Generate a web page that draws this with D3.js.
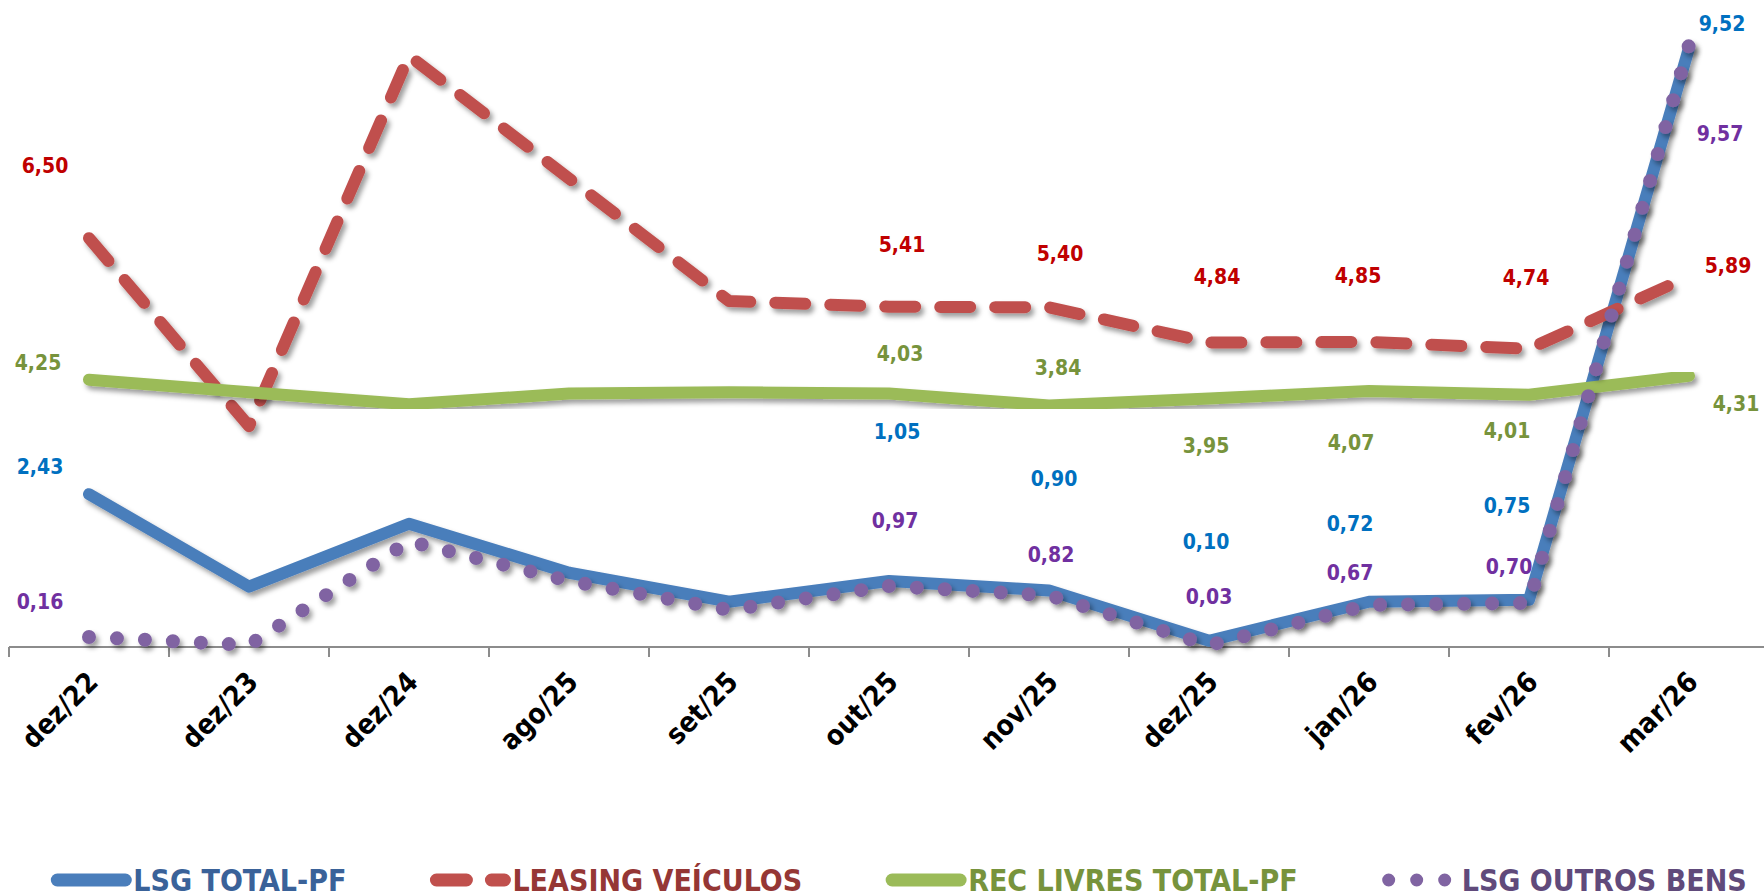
<!DOCTYPE html>
<html>
<head>
<meta charset="utf-8">
<script src="https://cdn.jsdelivr.net/npm/d3@7"></script>
<style>
  body { margin: 0; background: #fff; }
  svg text { font-family: 'DejaVu Sans Condensed', 'DejaVu Sans', sans-serif; font-stretch: condensed; font-weight: bold; }
</style>
</head>
<body>
<div id="chart"></div>
<script>
// categories and series
const categories = ["dez/22", "dez/23", "dez/24", "ago/25", "set/25", "out/25", "nov/25", "dez/25", "jan/26", "fev/26", "mar/26"];
const lsgTotal   = [2.43, 0.96, 1.96, 1.18, 0.72, 1.05, 0.90, 0.10, 0.72, 0.75, 9.52];
const leasingVei = [6.50, 3.51, 9.40, 7.45, 5.50, 5.41, 5.40, 4.84, 4.85, 4.74, 5.89];
const recLivres  = [4.25, 4.05, 3.86, 4.03, 4.05, 4.03, 3.84, 3.95, 4.07, 4.01, 4.31];
const lsgOutros  = [0.16, 0.03, 1.68, 1.05, 0.59, 0.97, 0.82, 0.03, 0.67, 0.70, 9.57];
const seriesNames = ["LSG TOTAL-PF", "LEASING VEÍCULOS", "REC LIVRES TOTAL-PF", "LSG OUTROS BENS"];

// where each data label sits relative to its point (null = no label shown)
const offBlue   = [[-49, -27], null, null, null, null, [8, -149], [5, -111], [-3, -99], [-19, -78], [-22, -94], [33, -24]];
const offRed    = [[-44, -72], null, null, null, null, [13, -62], [11, -53], [8, -66], [-11, -66], [-3, -71], [39, -11]];
const offGreen  = [[-51, -17], null, null, null, null, [11, -40], [9, -37], [-3, 47], [-18, 52], [-22, 36], [47, 28]];
const offPurple = [[-49, -35], null, null, null, null, [6, -65], [2, -40], [0, -48], [-19, -32], [-20, -36], [31, 89]];

const width = 1764, height = 896;
const axisY = 647;

const svg = d3.select("#chart").append("svg")
    .attr("width", width)
    .attr("height", height);

// soft shadow like the Excel lines
const defs = svg.append("defs");
defs.append("filter")
    .attr("id", "shadow")
    .attr("x", "-10%").attr("y", "-10%")
    .attr("width", "120%").attr("height", "120%")
  .append("feDropShadow")
    .attr("dx", 3).attr("dy", 4)
    .attr("stdDeviation", 2.5)
    .attr("flood-color", "#000")
    .attr("flood-opacity", 0.38);

const x = d3.scaleBand()
    .domain(categories)
    .range([9, 1769])
    .padding(0);

const y = d3.scaleLinear()
    .domain([0, 10])
    .range([axisY, 18]);

const ptX = d => x(d) + x.bandwidth() / 2;

const ptBr = d3.formatLocale({ decimal: ",", thousands: ".", grouping: [3], currency: ["R$", ""] });
const fmt = ptBr.format(".2f");

const series = [
  { name: seriesNames[0], values: lsgTotal,   offs: offBlue,   stroke: "#4A7EBB", label: "#0070C0", legend: "#3A6299", dash: null,    w: 12 },
  { name: seriesNames[1], values: leasingVei, offs: offRed,    stroke: "#C0504D", label: "#C00000", legend: "#953735", dash: "30 25", w: 12 },
  { name: seriesNames[2], values: recLivres,  offs: offGreen,  stroke: "#9BBB59", label: "#77933C", legend: "#77933C", dash: null,    w: 12 },
  { name: seriesNames[3], values: lsgOutros,  offs: offPurple, stroke: "#8064A2", label: "#7030A0", legend: "#604A7B", dash: "0 28",  w: 14 }
];

// category axis
svg.append("line")
    .attr("x1", 9).attr("x2", width)
    .attr("y1", axisY).attr("y2", axisY)
    .style("stroke", "#8C8C8C")
    .style("stroke-width", 2);

svg.selectAll(".tick")
    .data(categories)
    .enter().append("line")
    .attr("class", "tick")
    .attr("x1", d => x(d)).attr("x2", d => x(d))
    .attr("y1", axisY).attr("y2", axisY + 10)
    .style("stroke", "#8C8C8C")
    .style("stroke-width", 2);

svg.selectAll(".cat")
    .data(categories)
    .enter().append("text")
    .attr("class", "cat")
    .attr("transform", d => `translate(${ptX(d) + 4},${axisY + 30}) rotate(-45)`)
    .attr("text-anchor", "end")
    .attr("dominant-baseline", "central")
    .style("font-size", "28px")
    .style("fill", "#000")
    .text(d => d);

// lines
const line = d3.line()
    .x((d, i) => ptX(categories[i]))
    .y(d => y(d));

series.forEach(s => {
    svg.append("path")
        .datum(s.values)
        .attr("d", line)
        .attr("filter", "url(#shadow)")
        .style("fill", "none")
        .style("stroke", s.stroke)
        .style("stroke-width", s.w)
        .style("stroke-linecap", "round")
        .style("stroke-linejoin", "round")
        .style("stroke-dasharray", s.dash);
});

// data labels
series.forEach(s => {
    const shown = s.values.map((v, i) => ({ v, i, off: s.offs[i] })).filter(d => d.off);
    svg.selectAll(null)
        .data(shown)
        .enter().append("text")
        .attr("x", d => ptX(categories[d.i]) + d.off[0])
        .attr("y", d => y(d.v) + d.off[1])
        .attr("text-anchor", "middle")
        .attr("dominant-baseline", "central")
        .style("font-size", "21px")
        .style("fill", s.label)
        .text(d => fmt(d.v));
});

// legend
const legend = svg.append("g").attr("class", "legend");
const legendY = 880;
let lx = 0;
series.forEach(s => {
    const item = legend.append("g").attr("transform", `translate(${lx},0)`);
    const dotted = s.dash === "0 28";
    item.append("line")
        .attr("x1", dotted ? 7 : 6).attr("x2", dotted ? 63.5 : 74)
        .attr("y1", legendY).attr("y2", legendY)
        .style("stroke", s.stroke)
        .style("stroke-width", 13)
        .style("stroke-linecap", "round")
        .style("stroke-dasharray", s.dash);
    const t = item.append("text")
        .attr("x", dotted ? 80 : 82)
        .attr("y", legendY)
        .attr("dominant-baseline", "central")
        .style("font-size", "30px")
        .style("fill", s.legend)
        .text(s.name);
    lx += 82 + t.node().getComputedTextLength() + 84;
});
const legendW = lx - 84;
legend.attr("transform", `translate(${900 - legendW / 2},0)`);
</script>
</body>
</html>
